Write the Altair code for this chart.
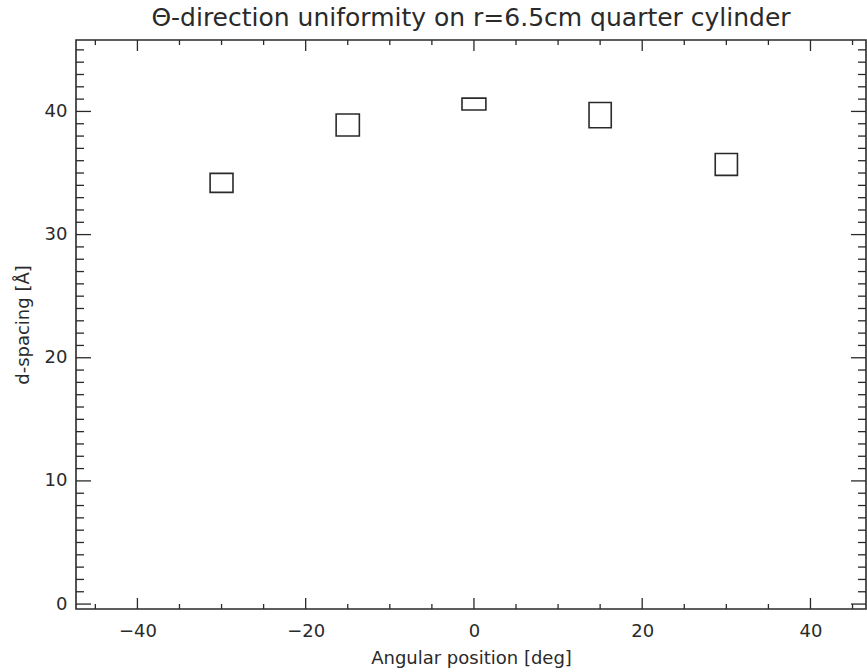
import altair as alt
import pandas as pd

# ---- data ----
angles = [-30, -15, 0, 15, 30]
dspacing = [34.2, 38.9, 40.6, 39.7, 35.7]
dspacing_err = [0.77, 0.89, 0.48, 1.03, 0.89]
angle_halfwidth = [1.36, 1.38, 1.42, 1.32, 1.32]

x_major = [-40, -20, 0, 20, 40]
x_minor = [-45, -35, -30, -25, -15, -10, -5, 5, 10, 15, 25, 30, 35, 45]
y_major = [0, 10, 20, 30, 40]
y_minor = [1, 2, 3, 4, 5, 6, 7, 8, 9, 11, 12, 13, 14, 15, 16, 17, 18, 19,
           21, 22, 23, 24, 25, 26, 27, 28, 29, 31, 32, 33, 34, 35, 36, 37, 38, 39,
           41, 42, 43, 44, 45]

X_DOMAIN = [-47.3, 46.6]
Y_DOMAIN = [-0.4, 45.8]

W, H = 790, 569
INK = "#2a2a2a"
FONT = "DejaVu Sans"

df = pd.DataFrame({"angle": angles, "d": dspacing, "err": dspacing_err, "hw": angle_halfwidth})
df["x_lo"] = df["angle"] - df["hw"]
df["x_hi"] = df["angle"] + df["hw"]
df["y_lo"] = df["d"] - df["err"]
df["y_hi"] = df["d"] + df["err"]

xscale = alt.Scale(domain=X_DOMAIN, nice=False, zero=False)
yscale = alt.Scale(domain=Y_DOMAIN, nice=False, zero=False)

xaxis = alt.Axis(values=x_major, ticks=False, domain=False, grid=False,
                 labelFont=FONT, labelFontSize=18, labelColor=INK, labelPadding=13,
                 title="Angular position [deg]", titleFont=FONT, titleFontSize=18,
                 titleFontWeight="normal", titleColor=INK, titlePadding=9)
yaxis = alt.Axis(values=y_major, ticks=False, domain=False, grid=False,
                 labelFont=FONT, labelFontSize=18, labelColor=INK, labelPadding=9,
                 title="d-spacing [Å]", titleFont=FONT, titleFontSize=18,
                 titleFontWeight="normal", titleColor=INK, titlePadding=12)

boxes = alt.Chart(df).mark_rect(fillOpacity=0, stroke=INK, strokeWidth=1.6).encode(
    x=alt.X("x_lo:Q", scale=xscale, axis=xaxis),
    x2="x_hi:Q",
    y=alt.Y("y_lo:Q", scale=yscale, axis=yaxis),
    y2="y_hi:Q",
)

def xticks(vals, y0, y1):
    return alt.Chart(pd.DataFrame({"v": vals})).mark_rule(color=INK, strokeWidth=1.3).encode(
        x=alt.X("v:Q", scale=xscale, axis=xaxis),
        y=alt.value(y0), y2=alt.value(y1))

def yticks(vals, x0, x1):
    return alt.Chart(pd.DataFrame({"v": vals})).mark_rule(color=INK, strokeWidth=1.3).encode(
        y=alt.Y("v:Q", scale=yscale, axis=yaxis),
        x=alt.value(x0), x2=alt.value(x1))

layers = [
    boxes,
    xticks(x_major, H, H - 11), xticks(x_minor, H, H - 5),
    xticks(x_major, 0, 11), xticks(x_minor, 0, 5),
    yticks(y_major, 0, 15), yticks(y_minor, 0, 8),
    yticks(y_major, W, W - 15), yticks(y_minor, W, W - 8),
]

chart = alt.layer(*layers).properties(
    width=W, height=H,
    background="white",
    title=alt.TitleParams("Θ-direction uniformity on r=6.5cm quarter cylinder",
                          font=FONT, fontSize=25, fontWeight="normal", color=INK,
                          anchor="middle", offset=8),
    autosize=alt.AutoSizeParams(type="none"),
    padding={"left": 76, "top": 40, "right": 1, "bottom": 63},
).configure_view(stroke=INK, strokeWidth=1.6)

chart.save("out.html", embed_options={"renderer": "svg", "actions": False})
